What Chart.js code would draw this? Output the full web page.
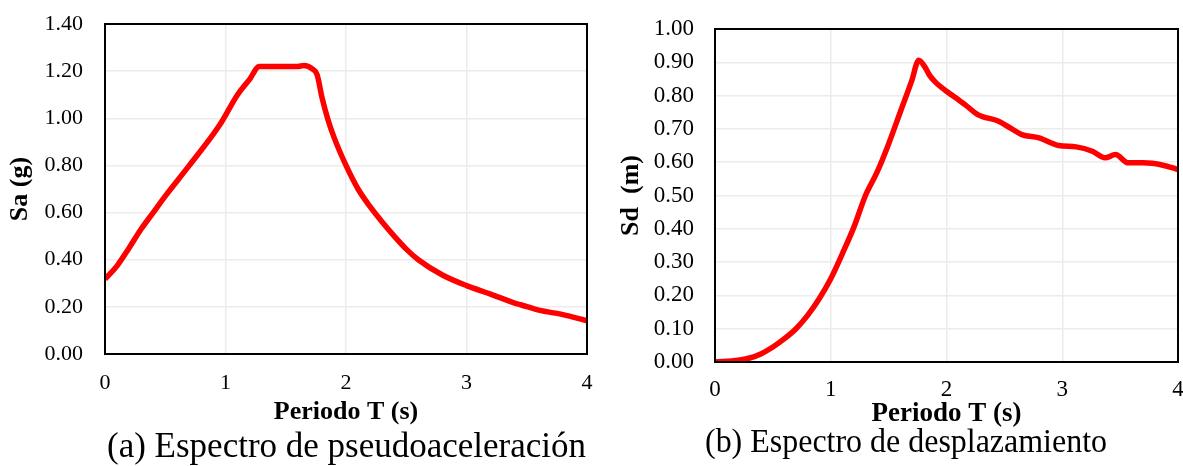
<!DOCTYPE html>
<html>
<head>
<meta charset="utf-8">
<script src="https://cdn.jsdelivr.net/npm/chart.js@4"></script>
<style>
  body { margin: 0; background: #fff; width: 1183px; height: 466px; overflow: hidden; position: relative; font-family: "Liberation Serif", serif; }
  .box { position: absolute; top: 0; height: 430px; }
  .cap { position: absolute; color: #000; white-space: nowrap; transform-origin: left top; }
</style>
</head>
<body>
<div class="box" style="left:0;width:600px"><canvas id="grafA"></canvas></div>
<div class="box" style="left:600px;width:583px"><canvas id="grafB"></canvas></div>
<div class="cap" style="left:107px;top:428px;font-size:35px;line-height:35px">(a) Espectro de pseudoaceleración</div>
<div class="cap" style="left:705px;top:424px;font-size:34px;line-height:34px;transform:scaleX(0.94)">(b) Espectro de desplazamiento</div>
<script>
// Espectro de pseudoaceleración
const periodosA = [0, 0.1, 0.2, 0.3, 0.4, 0.5, 0.7, 0.95, 1.1, 1.2, 1.28, 1.45, 1.6, 1.65, 1.72, 1.76, 1.8, 1.85, 1.9, 2.0, 2.1, 2.2, 2.3, 2.4, 2.5, 2.6, 2.8, 3.0, 3.2, 3.4, 3.45, 3.6, 3.8, 4.0];
const saValores = [0.318, 0.374, 0.45, 0.53, 0.60, 0.67, 0.80, 0.97, 1.10, 1.165, 1.22, 1.22, 1.22, 1.224, 1.21, 1.185, 1.09, 0.995, 0.92, 0.80, 0.70, 0.625, 0.56, 0.50, 0.445, 0.40, 0.335, 0.29, 0.254, 0.216, 0.209, 0.186, 0.167, 0.141];

// Espectro de desplazamiento
const periodosB = [0, 0.2, 0.3, 0.4, 0.5, 0.6, 0.7, 0.8, 0.9, 1.0, 1.1, 1.2, 1.3, 1.4, 1.5, 1.6, 1.7, 1.76, 1.81, 1.85, 1.9, 2.0, 2.1, 2.16, 2.27, 2.45, 2.55, 2.65, 2.8, 2.97, 3.12, 3.26, 3.37, 3.46, 3.57, 3.7, 3.87, 4.0];
const sdValores = [0.0, 0.005, 0.012, 0.025, 0.045, 0.07, 0.10, 0.14, 0.19, 0.25, 0.325, 0.405, 0.50, 0.57, 0.655, 0.75, 0.845, 0.906, 0.888, 0.863, 0.842, 0.813, 0.788, 0.773, 0.743, 0.723, 0.703, 0.683, 0.673, 0.65, 0.646, 0.633, 0.613, 0.623, 0.598, 0.598, 0.591, 0.578];

const xTicks = [0, 1, 2, 3, 4];

// marco negro alrededor del area
const marco = {
    id: 'marco',
    afterDraw(chart) {
        const a = chart.chartArea, c = chart.ctx;
        c.save();
        c.strokeStyle = '#000';
        c.lineWidth = 2;
        c.strokeRect(a.left, a.top, a.right - a.left, a.bottom - a.top);
        c.restore();
    }
};

// geen extra ruimte voor labels, de layout-padding bepaalt alles
function geenPadding(s) {
    s.paddingTop = 0; s.paddingBottom = 0; s.paddingLeft = 0; s.paddingRight = 0;
}

function maakGrafiek(id, xs, ys, yMax, yStap, yTitel, opt) {
    const punten = xs.map((x, i) => ({ x: x, y: ys[i] }));
    return new Chart(document.getElementById(id), {
        type: 'line',
        data: { datasets: [{ data: punten, borderColor: '#ff0000', borderWidth: 5.5, pointRadius: 0, cubicInterpolationMode: 'monotone', fill: false }] },
        options: {
            responsive: true, maintainAspectRatio: false, animation: false,
            layout: { autoPadding: false, padding: { top: opt.top, right: opt.right, left: 0, bottom: 0 } },
            plugins: { legend: { display: false }, tooltip: { enabled: false } },
            scales: {
                x: {
                    type: 'linear', min: 0, max: 4,
                    afterBuildTicks: s => { s.ticks = xTicks.map(v => ({ value: v })); },
                    grid: { color: '#ececec', lineWidth: 1.5, drawTicks: false },
                    border: { display: false },
                    ticks: { color: '#000', padding: opt.xPad, maxRotation: 0, font: { family: 'Liberation Serif', size: opt.fs } },
                    title: { display: true, text: 'Periodo T (s)', color: '#000', padding: { top: 0, bottom: opt.xtPad }, font: { family: 'Liberation Serif', size: opt.xts, weight: 'bold' } },
                    afterFit: s => { s.height = opt.xH; geenPadding(s); }
                },
                y: {
                    min: 0, max: yMax,
                    ticks: { stepSize: yStap, color: '#000', padding: opt.yPad, font: { family: 'Liberation Serif', size: opt.fs }, callback: v => v.toFixed(2) },
                    grid: { color: '#ececec', lineWidth: 1.5, drawTicks: false },
                    border: { display: false },
                    title: { display: true, text: yTitel, color: '#000', padding: { top: opt.tPad, bottom: 0 }, font: { family: 'Liberation Serif', size: 26, weight: 'bold' } },
                    afterFit: s => { s.width = opt.yW; geenPadding(s); }
                }
            }
        },
        plugins: [marco]
    });
}

maakGrafiek('grafA', periodosA, saValores, 1.4, 0.2, 'Sa (g)', { top: 24, right: 13, xH: 76, yW: 105, xPad: 16, yPad: 22, fs: 22, tPad: 5, xts: 26, xtPad: 2 });
maakGrafiek('grafB', periodosB, sdValores, 1.0, 0.1, 'Sd  (m)', { top: 29, right: 5, xH: 68, yW: 115, xPad: 14, yPad: 21, fs: 23, tPad: 16, xts: 27, xtPad: 0 });
</script>
</body>
</html>
